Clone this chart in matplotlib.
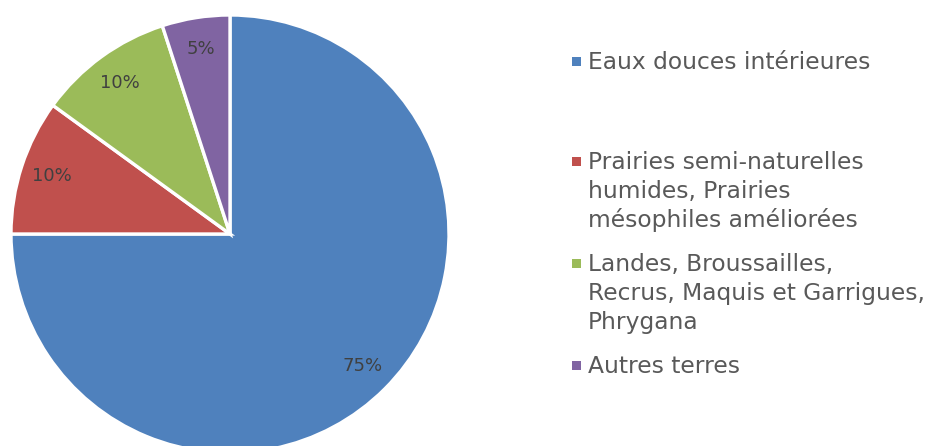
import matplotlib.pyplot as plt
from matplotlib.patches import Rectangle

# habitat shares
labels = [
    ["Eaux douces intérieures"],
    ["Prairies semi-naturelles", "humides, Prairies", "mésophiles améliorées"],
    ["Landes, Broussailles,", "Recrus, Maquis et Garrigues,", "Phrygana"],
    ["Autres terres"],
]
shares = [75, 10, 10, 5]
colors = ["#4F81BD", "#C0504D", "#9BBB59", "#8064A2"]

W, H = 938, 446
fig = plt.figure(figsize=(W / 100, H / 100), dpi=100)
ax = fig.add_axes([0, 0, 1, 1])

wedges, texts, autotexts = ax.pie(
    shares, colors=colors, startangle=90, counterclock=False,
    center=(230, H - 234), radius=219, frame=True,
    autopct=lambda p: f"{p:.0f}%", pctdistance=0.855,
    wedgeprops=dict(edgecolor="white", linewidth=2.4),
    textprops=dict(color="#404040", fontsize=13, family="DejaVu Sans"),
)
ax.set_xlim(0, W)
ax.set_ylim(0, H)
ax.set_aspect("equal")
ax.axis("off")

# legend, laid out by hand (entries are unevenly spaced)
baselines = [[69], [169, 198, 227], [271, 300, 329], [373]]
for lines, ys, c in zip(labels, baselines, colors):
    ax.add_patch(Rectangle((572, H - ys[0] + 3), 9, 9, color=c, lw=0))
    for line, y in zip(lines, ys):
        ax.text(588, H - y, line, fontsize=16.8, color="#595959",
                family="DejaVu Sans", va="baseline", ha="left")

fig.savefig("out.png", dpi=100)
